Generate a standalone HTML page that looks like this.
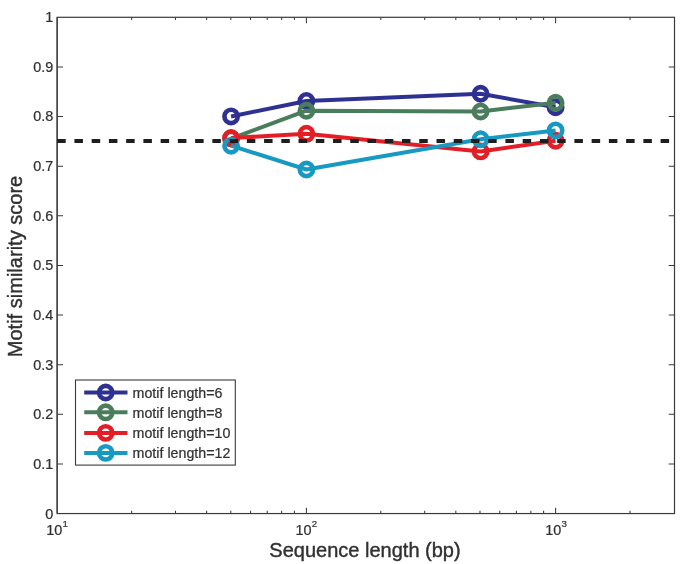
<!DOCTYPE html>
<html><head><meta charset="utf-8"><title>Motif similarity score</title>
<style>
html,body{margin:0;padding:0;background:#fff;}
svg{display:block;}
text{font-family:"Liberation Sans",Arial,Helvetica,sans-serif;fill:#303030;stroke:#303030;stroke-width:0.22px;}
text.big{stroke-width:0.4px;}
</style></head><body>
<svg width="685" height="564" viewBox="0 0 685 564">
<rect x="0" y="0" width="685" height="564" fill="#ffffff"/>

<rect x="57.2" y="17.3" width="617.30" height="496.25" fill="none" stroke="#3a3a3a" stroke-width="1.2"/>
<path d="M57.2 17.3V513.55" fill="none" stroke="#484848" stroke-width="1.5"/>
<path d="M57.2 463.92h5.8M674.5 463.92h-5.8M57.2 414.30h5.8M674.5 414.30h-5.8M57.2 364.67h5.8M674.5 364.67h-5.8M57.2 315.05h5.8M674.5 315.05h-5.8M57.2 265.42h5.8M674.5 265.42h-5.8M57.2 215.80h5.8M674.5 215.80h-5.8M57.2 166.18h5.8M674.5 166.18h-5.8M57.2 116.55h5.8M674.5 116.55h-5.8M57.2 66.93h5.8M674.5 66.93h-5.8M306.40 513.55v-5.9M306.40 17.3v5.9M555.60 513.55v-5.9M555.60 17.3v5.9M131.62 513.55v-2.7M131.62 17.3v2.7M175.50 513.55v-2.7M175.50 17.3v2.7M206.63 513.55v-2.7M206.63 17.3v2.7M230.78 513.55v-2.7M230.78 17.3v2.7M250.52 513.55v-2.7M250.52 17.3v2.7M267.20 513.55v-2.7M267.20 17.3v2.7M281.65 513.55v-2.7M281.65 17.3v2.7M294.40 513.55v-2.7M294.40 17.3v2.7M380.82 513.55v-2.7M380.82 17.3v2.7M424.70 513.55v-2.7M424.70 17.3v2.7M455.83 513.55v-2.7M455.83 17.3v2.7M479.98 513.55v-2.7M479.98 17.3v2.7M499.72 513.55v-2.7M499.72 17.3v2.7M516.40 513.55v-2.7M516.40 17.3v2.7M530.85 513.55v-2.7M530.85 17.3v2.7M543.60 513.55v-2.7M543.60 17.3v2.7M630.02 513.55v-2.7M630.02 17.3v2.7" fill="none" stroke="#3a3a3a" stroke-width="1.05"/>
<text transform="translate(53.30 518.60) scale(1.03 1)" font-size="14.0" text-anchor="end">0</text>
<text transform="translate(53.30 468.94) scale(1.03 1)" font-size="14.0" text-anchor="end">0.1</text>
<text transform="translate(53.30 419.29) scale(1.03 1)" font-size="14.0" text-anchor="end">0.2</text>
<text transform="translate(53.30 369.63) scale(1.03 1)" font-size="14.0" text-anchor="end">0.3</text>
<text transform="translate(53.30 319.98) scale(1.03 1)" font-size="14.0" text-anchor="end">0.4</text>
<text transform="translate(53.30 270.32) scale(1.03 1)" font-size="14.0" text-anchor="end">0.5</text>
<text transform="translate(53.30 220.67) scale(1.03 1)" font-size="14.0" text-anchor="end">0.6</text>
<text transform="translate(53.30 171.02) scale(1.03 1)" font-size="14.0" text-anchor="end">0.7</text>
<text transform="translate(53.30 121.36) scale(1.03 1)" font-size="14.0" text-anchor="end">0.8</text>
<text transform="translate(53.30 71.70) scale(1.03 1)" font-size="14.0" text-anchor="end">0.9</text>
<text transform="translate(53.30 22.05) scale(1.03 1)" font-size="14.0" text-anchor="end">1</text>
<text transform="translate(46.20 534.6) scale(1.03 1)" font-size="14.0">10<tspan font-size="9.5" dy="-7.7" dx="0.2">1</tspan></text>
<text transform="translate(295.40 534.6) scale(1.03 1)" font-size="14.0">10<tspan font-size="9.5" dy="-7.7" dx="0.2">2</tspan></text>
<text transform="translate(545.30 534.6) scale(1.03 1)" font-size="14.0">10<tspan font-size="9.5" dy="-7.7" dx="0.2">3</tspan></text>
<text class="big" transform="translate(365.00 556.70) scale(0.972 1)" font-size="20.6" text-anchor="middle">Sequence length (bp)</text>
<text class="big" transform="translate(22.4 266.5) rotate(-90) scale(0.993 1)" font-size="20.2" text-anchor="middle">Motif similarity score</text>
<polyline points="231.08,116.45 306.40,100.97 480.58,93.78 555.60,107.27" fill="none" stroke="#2e3192" stroke-width="4" stroke-linejoin="round"/>
<circle cx="231.08" cy="116.45" r="6.65" fill="none" stroke="#2e3192" stroke-width="4.6"/>
<circle cx="306.40" cy="100.97" r="6.65" fill="none" stroke="#2e3192" stroke-width="4.6"/>
<circle cx="480.58" cy="93.78" r="6.65" fill="none" stroke="#2e3192" stroke-width="4.6"/>
<circle cx="555.60" cy="107.27" r="6.65" fill="none" stroke="#2e3192" stroke-width="4.6"/>
<polyline points="231.08,138.52 306.40,110.74 480.58,111.49 555.60,102.81" fill="none" stroke="#4a7d5c" stroke-width="4" stroke-linejoin="round"/>
<circle cx="231.08" cy="138.52" r="6.65" fill="none" stroke="#4a7d5c" stroke-width="4.6"/>
<circle cx="306.40" cy="110.74" r="6.65" fill="none" stroke="#4a7d5c" stroke-width="4.6"/>
<circle cx="480.58" cy="111.49" r="6.65" fill="none" stroke="#4a7d5c" stroke-width="4.6"/>
<circle cx="555.60" cy="102.81" r="6.65" fill="none" stroke="#4a7d5c" stroke-width="4.6"/>
<polyline points="231.08,138.02 306.40,133.81 480.58,151.42 555.60,140.70" fill="none" stroke="#e41e26" stroke-width="4" stroke-linejoin="round"/>
<circle cx="231.08" cy="138.02" r="6.65" fill="none" stroke="#e41e26" stroke-width="4.6"/>
<circle cx="306.40" cy="133.81" r="6.65" fill="none" stroke="#e41e26" stroke-width="4.6"/>
<circle cx="480.58" cy="151.42" r="6.65" fill="none" stroke="#e41e26" stroke-width="4.6"/>
<circle cx="555.60" cy="140.70" r="6.65" fill="none" stroke="#e41e26" stroke-width="4.6"/>
<polyline points="231.08,145.71 306.40,169.52 480.58,139.21 555.60,130.39" fill="none" stroke="#1799c1" stroke-width="4" stroke-linejoin="round"/>
<circle cx="231.08" cy="145.71" r="6.65" fill="none" stroke="#1799c1" stroke-width="4.6"/>
<circle cx="306.40" cy="169.52" r="6.65" fill="none" stroke="#1799c1" stroke-width="4.6"/>
<circle cx="480.58" cy="139.21" r="6.65" fill="none" stroke="#1799c1" stroke-width="4.6"/>
<circle cx="555.60" cy="130.39" r="6.65" fill="none" stroke="#1799c1" stroke-width="4.6"/>
<path d="M57.2 141.05H674.5" stroke="#1e1e1e" stroke-width="3.9" stroke-dasharray="8.5 8.74" fill="none"/>
<rect x="75.5" y="380" width="159.8" height="85.1" fill="#fff" stroke="#3a3a3a" stroke-width="1.1"/>
<path d="M84.2 392.5H127.5" stroke="#2e3192" stroke-width="4"/>
<circle cx="105.7" cy="392.5" r="6.65" fill="none" stroke="#2e3192" stroke-width="4.6"/>
<text transform="translate(132.60 397.85) scale(1.018 1)" font-size="14.0" text-anchor="start">motif length=6</text>
<path d="M84.2 412.3H127.5" stroke="#4a7d5c" stroke-width="4"/>
<circle cx="105.7" cy="412.3" r="6.65" fill="none" stroke="#4a7d5c" stroke-width="4.6"/>
<text transform="translate(132.60 417.65) scale(1.018 1)" font-size="14.0" text-anchor="start">motif length=8</text>
<path d="M84.2 432.9H127.5" stroke="#e41e26" stroke-width="4"/>
<circle cx="105.7" cy="432.9" r="6.65" fill="none" stroke="#e41e26" stroke-width="4.6"/>
<text transform="translate(132.60 438.25) scale(1.018 1)" font-size="14.0" text-anchor="start">motif length=10</text>
<path d="M84.2 452.9H127.5" stroke="#1799c1" stroke-width="4"/>
<circle cx="105.7" cy="452.9" r="6.65" fill="none" stroke="#1799c1" stroke-width="4.6"/>
<text transform="translate(132.60 458.25) scale(1.018 1)" font-size="14.0" text-anchor="start">motif length=12</text>
</svg></body></html>
